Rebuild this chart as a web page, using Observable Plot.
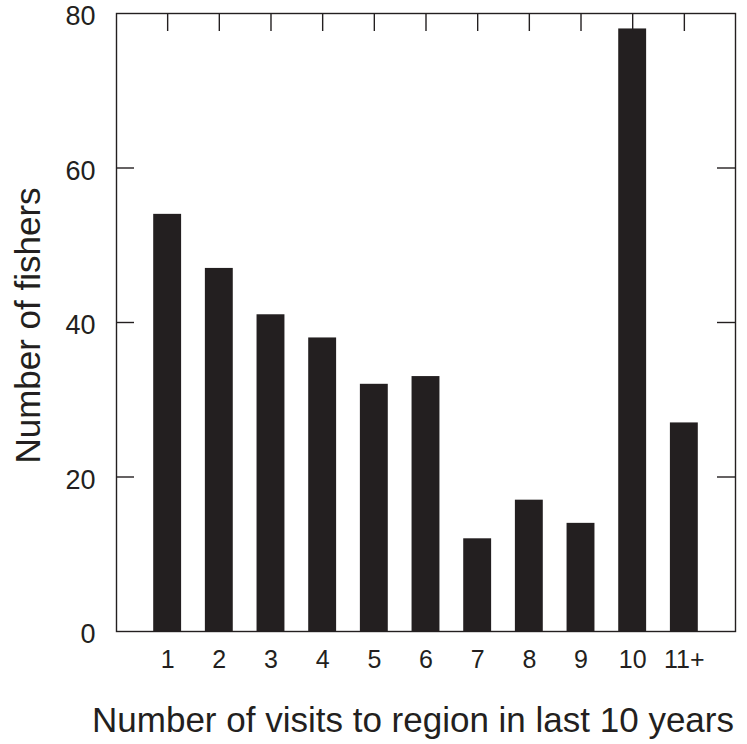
<!DOCTYPE html>
<html>
<head>
<meta charset="utf-8">
<script src="https://cdn.jsdelivr.net/npm/d3@7"></script>
<script src="https://cdn.jsdelivr.net/npm/@observablehq/plot@0.6"></script>
<style>
  html, body { margin: 0; padding: 0; background: white; }
</style>
</head>
<body>
<div id="chart"></div>
<script>
const categories = ["1", "2", "3", "4", "5", "6", "7", "8", "9", "10", "11+"];
const fishers = [54, 47, 41, 38, 32, 33, 12, 17, 14, 78, 27];
const yTicks = [0, 20, 40, 60, 80];
const innerTicks = [20, 40, 60];
const xTitle = "Number of visits to region in last 10 years";
const yTitle = "Number of fishers";

const data = categories.map((c, i) => ({cat: c, n: fishers[i]}));

const W = 747, H = 744;
const mL = 116, mR = 12, mT = 13, mB = 113;
const innerW = W - mL - mR, innerH = H - mT - mB;
const tick = 18;
const ink = "#231f20";

const chart = Plot.plot({
  width: W,
  height: H,
  marginLeft: mL,
  marginRight: mR,
  marginTop: mT,
  marginBottom: mB,
  style: {fontFamily: "'Liberation Sans', Arial, sans-serif", background: "white", color: ink},
  x: {type: "band", domain: categories, paddingInner: 0.46, paddingOuter: 0.72, round: false, label: null},
  y: {domain: [0, 80], label: null},
  marks: [
    Plot.barY(data, {x: "cat", y: "n", fill: ink}),
    Plot.frame({stroke: ink, strokeWidth: 1.4}),
    Plot.axisX({anchor: "bottom", tickSize: 0, tickPadding: 19, fontSize: 25, label: null}),
    Plot.axisY({anchor: "left", ticks: yTicks, tickSize: 0, tickPadding: 21, fontSize: 27, dy: 3, label: null}),
    Plot.tickX(categories, {x: d => d, insetBottom: innerH - tick, stroke: ink, strokeWidth: 1.4}),
    Plot.tickY(innerTicks, {y: d => d, insetRight: innerW - tick, stroke: ink, strokeWidth: 1.4}),
    Plot.tickY(innerTicks, {y: d => d, insetLeft: innerW - tick, stroke: ink, strokeWidth: 1.4}),
    Plot.text([xTitle], {frameAnchor: "bottom", textAnchor: "middle", lineAnchor: "middle", dy: 89, dx: -13, fontSize: 35, fill: ink}),
    Plot.text([yTitle], {frameAnchor: "left", textAnchor: "middle", lineAnchor: "middle", dx: -88, dy: 3, rotate: -90, fontSize: 35, fill: ink})
  ]
});
document.getElementById("chart").appendChild(chart);
</script>
</body>
</html>
